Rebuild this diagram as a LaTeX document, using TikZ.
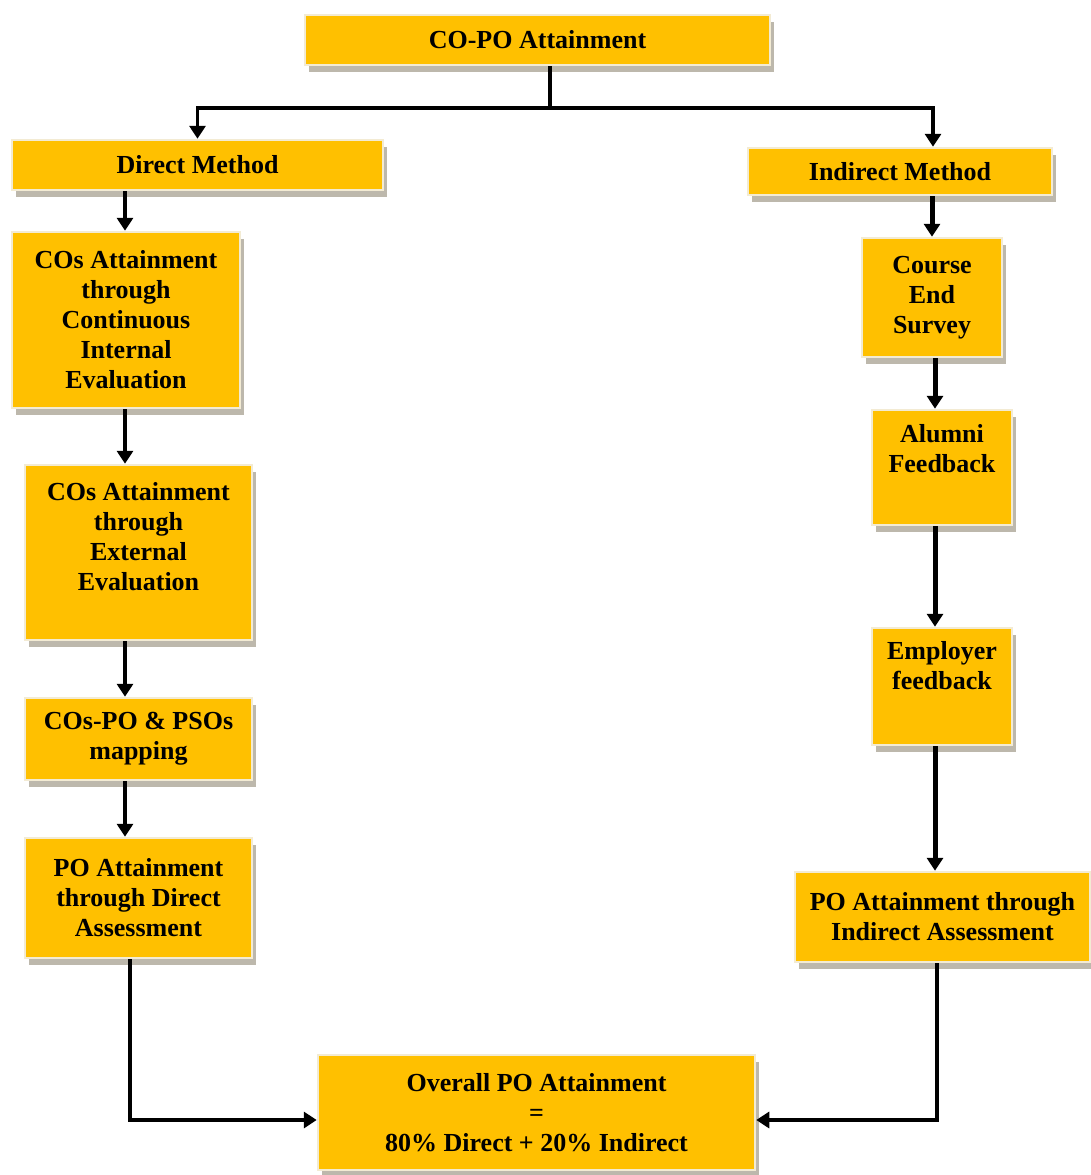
\documentclass[tikz,border=0pt]{standalone}
\usepackage{fontspec}
\setmainfont{Liberation Serif}
\usetikzlibrary{arrows.meta,shadows,calc}
\definecolor{gold}{HTML}{FFC000}
\definecolor{cream}{HTML}{F3EBD3}
\definecolor{shade}{HTML}{BDB8AC}
\newcommand\toptext[4]{\parbox[c][#1][t]{#2}{\centering\vspace*{#3}#4\par}}
\begin{document}
\begin{tikzpicture}[x=1pt,y=-1pt,
  box/.style={fill=gold, draw=cream, line width=2.5pt, inner sep=0pt, align=center,
    font=\fontsize{26}{30}\selectfont\bfseries,
    drop shadow={shadow xshift=4pt,shadow yshift=-7pt,fill=shade,opacity=1}},
  conn/.style={line width=3.5pt, draw=black},
  arr/.style={conn, -{Triangle[width=16pt,length=13pt]}},
  heavyarr/.style={arr, line width=5pt}]
\useasboundingbox (0,0) rectangle (1090,1175);

\node[box,minimum width=465pt,minimum height=50pt] (top) at (537.5,40) {CO-PO Attainment};
\node[box,minimum width=371pt,minimum height=50pt] (direct) at (197.5,165) {Direct Method};
\node[box,minimum width=304pt,minimum height=47pt] (indirect) at (900,171.5) {Indirect Method};

\node[box,minimum width=228pt,minimum height=176pt] (cos1) at (126,320)
  {COs Attainment\\through\\Continuous\\Internal\\Evaluation};
\node[box,minimum width=227pt,minimum height=175pt] (cos2) at (138.5,552.5)
  {\toptext{175pt}{227pt}{17pt}{COs Attainment\\through\\External\\Evaluation}};
\node[box,minimum width=227pt,minimum height=82pt] (map) at (138.5,739)
  {COs-PO \& PSOs\\mapping};
\node[box,minimum width=227pt,minimum height=120pt] (podir) at (138.5,898)
  {PO Attainment\\through Direct\\Assessment};

\node[box,minimum width=437pt,minimum height=115pt] (overall) at (536.5,1112.5)
  {Overall PO Attainment\\=\\80\% Direct + 20\% Indirect};

\node[box,minimum width=140pt,minimum height=119pt] (course) at (932,297.5)
  {Course\\End\\Survey};
\node[box,minimum width=140pt,minimum height=115pt] (alumni) at (942,467.5)
  {\toptext{115pt}{140pt}{14pt}{Alumni\\Feedback}};
\node[box,minimum width=140pt,minimum height=117pt] (employer) at (942,686.5)
  {\toptext{117pt}{140pt}{13pt}{Employer\\feedback}};
\node[box,minimum width=295pt,minimum height=90pt] (poind) at (942.5,917)
  {PO Attainment through\\Indirect Assessment};

% top split
\coordinate (j) at (550,108);
\coordinate (jr) at (933,108);
\draw[conn] (top.south -| j) -- (j);
\draw[arr] (j) -| (direct.north);
\draw[arr] (j) -| (jr |- indirect.north);

% left column
\coordinate (lc) at (125,0);
\draw[arr] (lc |- direct.south) -- (lc |- cos1.north);
\draw[arr] (lc |- cos1.south) -- (lc |- cos2.north);
\draw[arr] (lc |- cos2.south) -- (lc |- map.north);
\draw[arr] (lc |- map.south) -- (lc |- podir.north);

% right column
\coordinate (rc) at (935,0);
\draw[heavyarr] (indirect.south -| course.north) -- (course.north);
\draw[heavyarr] (rc |- course.south) -- (rc |- alumni.north);
\draw[heavyarr] (rc |- alumni.south) -- (rc |- employer.north);
\draw[heavyarr] (rc |- employer.south) -- (rc |- poind.north);

% to overall
\coordinate (by) at (0,1120);
\coordinate (lc2) at (130,0);
\coordinate (rc2) at (937,0);
\draw[arr] (lc2 |- podir.south) |- (overall.west |- by);
\draw[arr] (rc2 |- poind.south) |- (overall.east |- by);
\end{tikzpicture}
\end{document}
